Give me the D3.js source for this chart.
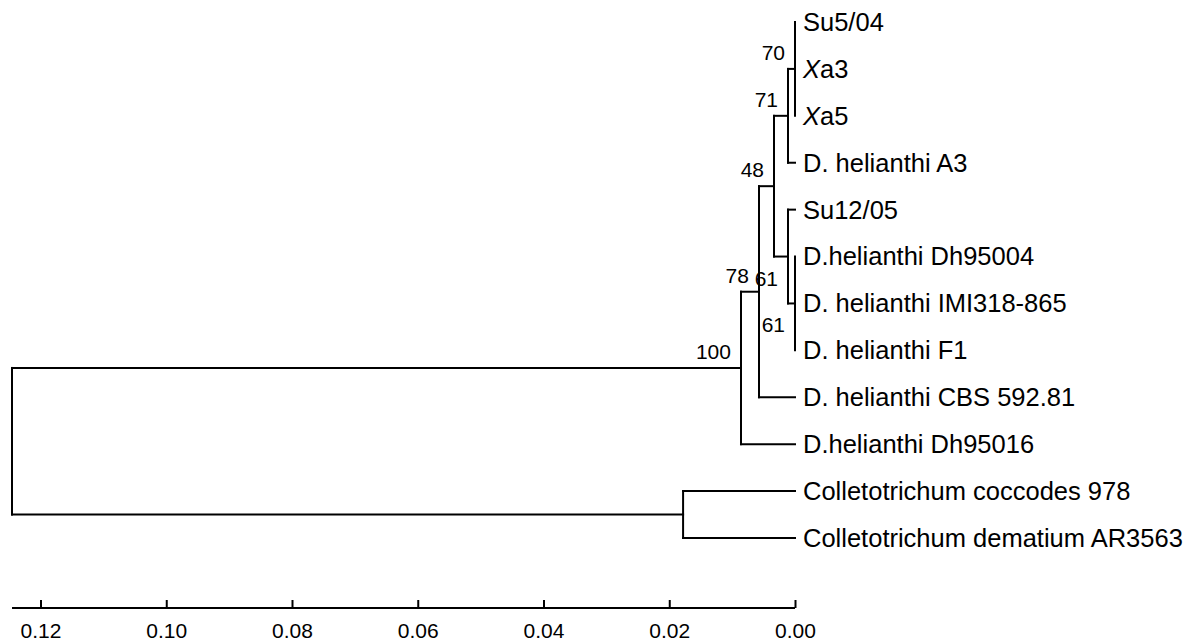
<!DOCTYPE html>
<html>
<head>
<meta charset="utf-8">
<script src="https://cdn.jsdelivr.net/npm/d3@7"></script>
<style>
  html, body { margin: 0; padding: 0; background: #fff; }
  svg { display: block; }
  text { font-family: "Liberation Sans", Arial, sans-serif; fill: #000; }
</style>
</head>
<body>
<svg id="chart" width="1192" height="641"></svg>
<script>
// ---- data ----
const leafNames = [
  "Su5/04", "Xa3", "Xa5", "D. helianthi A3", "Su12/05",
  "D.helianthi Dh95004", "D. helianthi IMI318-865", "D. helianthi F1",
  "D. helianthi CBS 592.81", "D.helianthi Dh95016",
  "Colletotrichum coccodes 978", "Colletotrichum dematium AR3563"
];
const italicPrefix = ["", "X", "X", "", "", "", "", "", "", "", "", ""];
const nodeIds = ["n70", "n71", "nT", "nS", "n48", "nB", "nA", "nC", "root"];
// node heights = distance from the tips
const nodeHeights = [0.0, 0.00111, 0.0, 0.00111, 0.00334, 0.00573, 0.00859, 0.0178, 0.12453];
const nodeChildren = [
  ["Su5/04", "Xa3", "Xa5"],
  ["n70", "D. helianthi A3"],
  ["D.helianthi Dh95004", "D. helianthi IMI318-865", "D. helianthi F1"],
  ["Su12/05", "nT"],
  ["n71", "nS"],
  ["n48", "D. helianthi CBS 592.81"],
  ["nB", "D.helianthi Dh95016"],
  ["Colletotrichum coccodes 978", "Colletotrichum dematium AR3563"],
  ["nA", "nC"]
];
const nodeSupport = [70, 71, 61, 61, 48, 78, 100, null, null];
const supportBelow = [false, false, true, true, false, false, false, false, false];
const axisTicks = [0.12, 0.10, 0.08, 0.06, 0.04, 0.02, 0.00];

// ---- scales ----
const svg = d3.select("#chart");
const x = d3.scaleLinear().domain([0.12, 0]).range([40.5, 795]);
const y = d3.scalePoint().domain(leafNames).range([22, 538]);

const height = {}, ypos = {};
leafNames.forEach(n => { height[n] = 0; ypos[n] = y(n); });
// resolve internal node positions (children defined before parents)
nodeIds.forEach((id, i) => {
  height[id] = nodeHeights[i];
  const kids = nodeChildren[i];
  ypos[id] = (ypos[kids[0]] + ypos[kids[kids.length - 1]]) / 2;
});

const g = svg.append("g");
const lineStyle = s => s.attr("stroke", "#000").attr("stroke-width", 2).attr("fill", "none")
  .attr("stroke-linecap", "square");

nodeIds.forEach((id, i) => {
  const kids = nodeChildren[i];
  const nx = x(height[id]);
  g.append("line").call(lineStyle)
    .attr("x1", nx).attr("x2", nx)
    .attr("y1", ypos[kids[0]]).attr("y2", ypos[kids[kids.length - 1]]);
  kids.forEach(k => {
    if (x(height[k]) - nx > 0.5) {
      g.append("line").call(lineStyle)
        .attr("x1", nx).attr("x2", x(height[k]))
        .attr("y1", ypos[k]).attr("y2", ypos[k]);
    }
  });
});

// leaf labels
g.selectAll("text.leaf").data(leafNames).join("text")
  .attr("class", "leaf")
  .attr("x", d => x(0) + 8)
  .attr("y", d => ypos[d])
  .attr("dy", "0.35em")
  .attr("font-size", 25.5)
  .each(function(d, i) {
    const t = d3.select(this);
    const pre = italicPrefix[i];
    if (pre) {
      t.append("tspan").attr("font-style", "italic").text(pre);
      t.append("tspan").text(d.slice(pre.length));
    } else {
      t.text(d);
    }
  });

// support labels
nodeIds.forEach((id, i) => {
  if (nodeSupport[i] == null) return;
  g.append("text")
    .attr("x", x(height[id]) - 10)
    .attr("y", ypos[id] + (supportBelow[i] ? 29 : -9))
    .attr("text-anchor", "end")
    .attr("font-size", 21)
    .text(nodeSupport[i]);
});

// axis
const axisY = 608;
const ax = svg.append("g").attr("transform", `translate(0,${axisY})`);
ax.append("line").call(lineStyle)
  .attr("stroke-linecap", "butt")
  .attr("x1", x(height["root"])).attr("x2", x(0))
  .attr("y1", 0).attr("y2", 0);
ax.call(d3.axisBottom(x).tickValues(axisTicks).tickFormat(d3.format(".2f"))
  .tickSizeInner(-8).tickSizeOuter(0).tickPadding(15))
  .call(a => a.select(".domain").remove())
  .call(a => a.selectAll(".tick line").attr("stroke", "#000").attr("stroke-width", 2))
  .call(a => a.selectAll(".tick text").attr("font-size", 21)
    .attr("font-family", "Liberation Sans, Arial, sans-serif").attr("fill", "#000"));
</script>
</body>
</html>
